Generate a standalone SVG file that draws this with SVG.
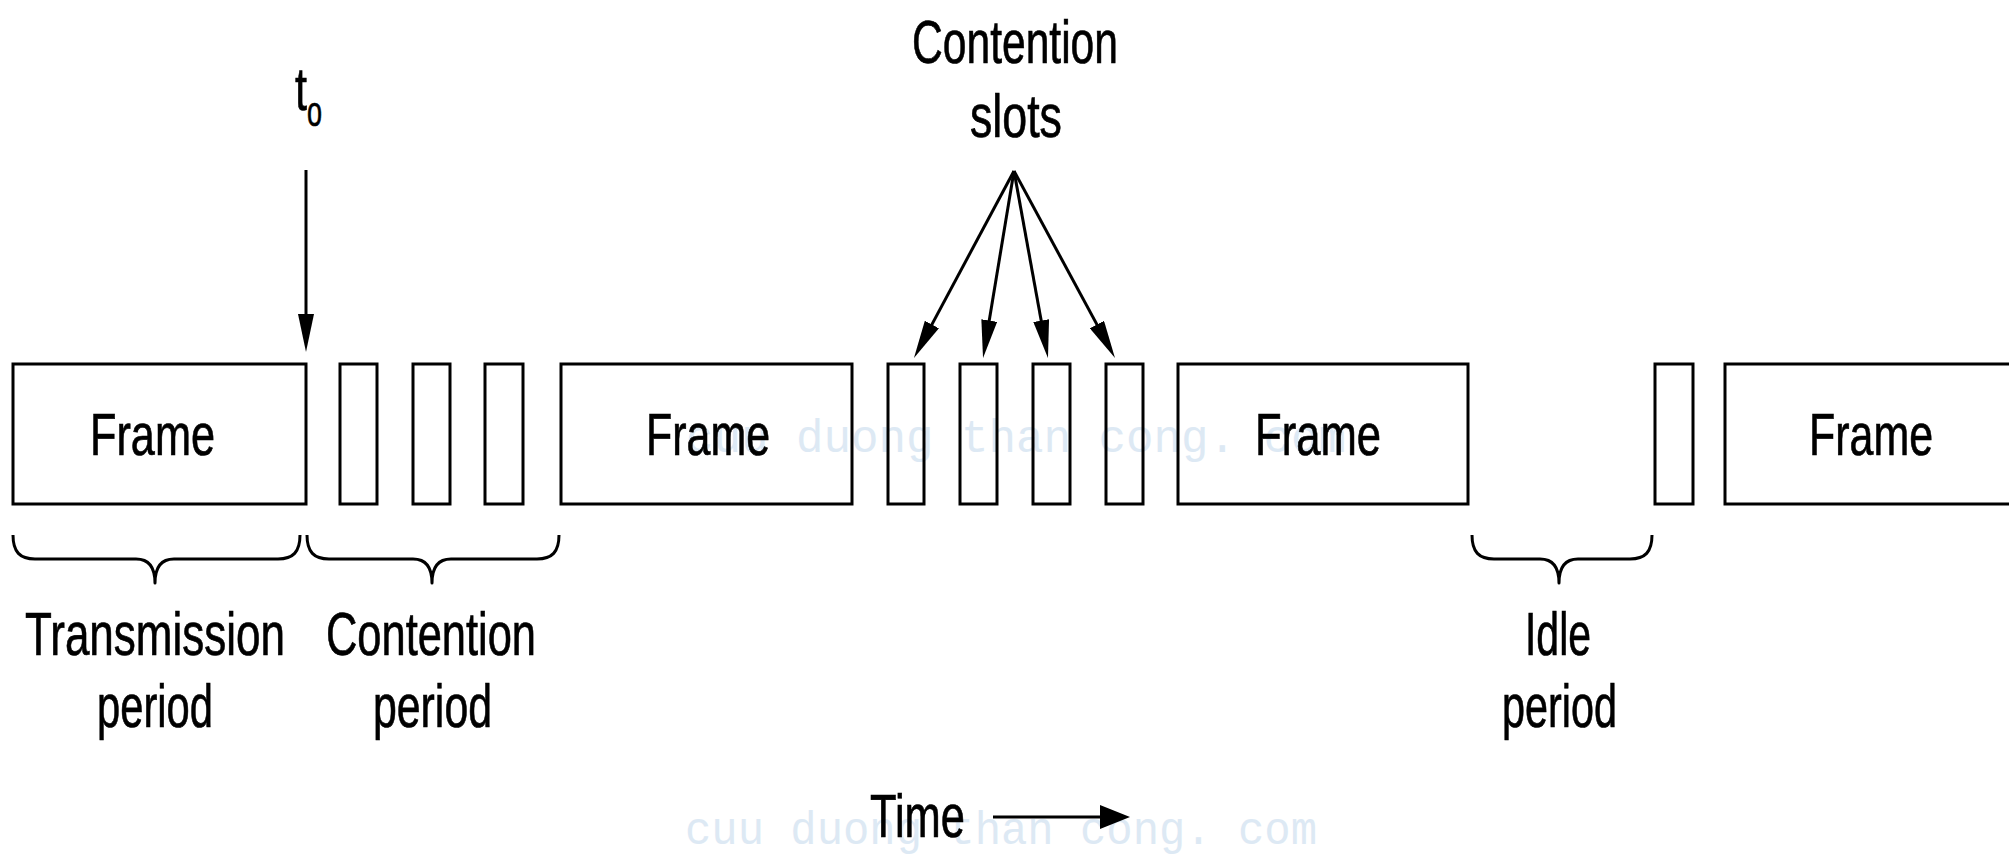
<svg xmlns="http://www.w3.org/2000/svg" width="2009" height="856" viewBox="0 0 2009 856">
<style>
.box{fill:none;stroke:#000;stroke-width:3}
.br{fill:none;stroke:#000;stroke-width:3;stroke-linejoin:round}
.ln{stroke:#000;stroke-width:3;fill:none}
.t{font-family:"Liberation Sans",Arial,sans-serif;font-size:61px;fill:#000;stroke:#000;stroke-width:0.7}
.f{font-family:"Liberation Sans",Arial,sans-serif;font-size:59px;fill:#000;stroke:#000;stroke-width:0.7}
.wm{font-family:"Liberation Mono","Courier New",monospace;font-size:46px;fill:#dde9f4}
</style>
<defs>
<marker id="ah" markerUnits="userSpaceOnUse" markerWidth="38" markerHeight="16" refX="18" refY="8" orient="auto">
<path d="M0,0 L38,8 L0,16 z" fill="#000"/>
</marker>
<marker id="ah2" markerUnits="userSpaceOnUse" markerWidth="30" markerHeight="24" refX="10" refY="12" orient="auto">
<path d="M0,0 L30,12 L0,24 z" fill="#000"/>
</marker>
</defs>
<rect width="2009" height="856" fill="#fff"/>
<g id="watermark">
<text class="wm" x="686" y="452" textLength="660" lengthAdjust="spacingAndGlyphs">cuu duong than cong. com</text>
<text class="wm" x="685" y="844" textLength="632" lengthAdjust="spacingAndGlyphs">cuu duong than cong. com</text>
</g>
<g id="frame1"><rect class="box" x="13" y="364" width="293" height="140"/><text class="f" x="90" y="455" textLength="125" lengthAdjust="spacingAndGlyphs">Frame</text></g>
<g id="slot1"><rect class="box" x="340" y="364" width="37" height="140"/></g>
<g id="slot2"><rect class="box" x="413" y="364" width="37" height="140"/></g>
<g id="slot3"><rect class="box" x="485" y="364" width="38" height="140"/></g>
<g id="frame2"><rect class="box" x="561" y="364" width="291" height="140"/><text class="f" x="646" y="455" textLength="124" lengthAdjust="spacingAndGlyphs">Frame</text></g>
<g id="slot4"><rect class="box" x="888" y="364" width="36" height="140"/></g>
<g id="slot5"><rect class="box" x="960" y="364" width="37" height="140"/></g>
<g id="slot6"><rect class="box" x="1033" y="364" width="37" height="140"/></g>
<g id="slot7"><rect class="box" x="1106" y="364" width="37" height="140"/></g>
<g id="frame3"><rect class="box" x="1178" y="364" width="290" height="140"/><text class="f" x="1255" y="455" textLength="126" lengthAdjust="spacingAndGlyphs">Frame</text></g>
<g id="slot8"><rect class="box" x="1655" y="364" width="38" height="140"/></g>
<g id="frame4"><rect class="box" x="1725" y="364" width="300" height="140"/><text class="f" x="1809" y="455" textLength="124" lengthAdjust="spacingAndGlyphs">Frame</text></g>
<g id="t0-label">
<text class="t" x="295" y="110" textLength="12" lengthAdjust="spacingAndGlyphs">t</text>
<text class="t" x="307" y="126" style="font-size:42px" textLength="15" lengthAdjust="spacingAndGlyphs">o</text>
</g>
<g id="slots-label">
<text class="t" x="912" y="63" textLength="206" lengthAdjust="spacingAndGlyphs">Contention</text>
<text class="t" x="970" y="137" textLength="92" lengthAdjust="spacingAndGlyphs">slots</text>
</g>
<g id="transmission-period">
<path class="br" d="M13,535 C13,552 20,559 35,559 L136,559 C149,559 155,567 155,583 C155,567 161,559 174,559 L278,559 C293,559 300,552 300,535"/>
<text class="t" x="25" y="655" textLength="260" lengthAdjust="spacingAndGlyphs">Transmission</text>
<text class="t" x="97" y="727" textLength="116" lengthAdjust="spacingAndGlyphs">period</text>
</g>
<g id="contention-period">
<path class="br" d="M307,535 C307,552 314,559 329,559 L413,559 C426,559 432,567 432,583 C432,567 438,559 451,559 L537,559 C552,559 559,552 559,535"/>
<text class="t" x="326" y="655" textLength="210" lengthAdjust="spacingAndGlyphs">Contention</text>
<text class="t" x="373" y="727" textLength="119" lengthAdjust="spacingAndGlyphs">period</text>
</g>
<g id="idle-period">
<path class="br" d="M1472,535 C1472,552 1479,559 1494,559 L1540,559 C1553,559 1559,567 1559,583 C1559,567 1565,559 1578,559 L1630,559 C1645,559 1652,552 1652,535"/>
<text class="t" x="1525" y="655" textLength="66" lengthAdjust="spacingAndGlyphs">Idle</text>
<text class="t" x="1502" y="727" textLength="115" lengthAdjust="spacingAndGlyphs">period</text>
</g>
<g id="time-label">
<text class="t" x="870" y="837" textLength="95" lengthAdjust="spacingAndGlyphs">Time</text>
</g>
<g id="connectors">
<line class="ln" x1="306" y1="170" x2="306" y2="332" marker-end="url(#ah)"/>
<line class="ln" x1="1014" y1="171" x2="923.4" y2="340.4" marker-end="url(#ah)"/>
<line class="ln" x1="1014" y1="171" x2="986.3" y2="338.3" marker-end="url(#ah)"/>
<line class="ln" x1="1014" y1="171" x2="1044.4" y2="338.3" marker-end="url(#ah)"/>
<line class="ln" x1="1014" y1="171" x2="1105.5" y2="340.4" marker-end="url(#ah)"/>
<line class="ln" x1="993" y1="817" x2="1110" y2="817" marker-end="url(#ah2)"/>
</g>
</svg>
